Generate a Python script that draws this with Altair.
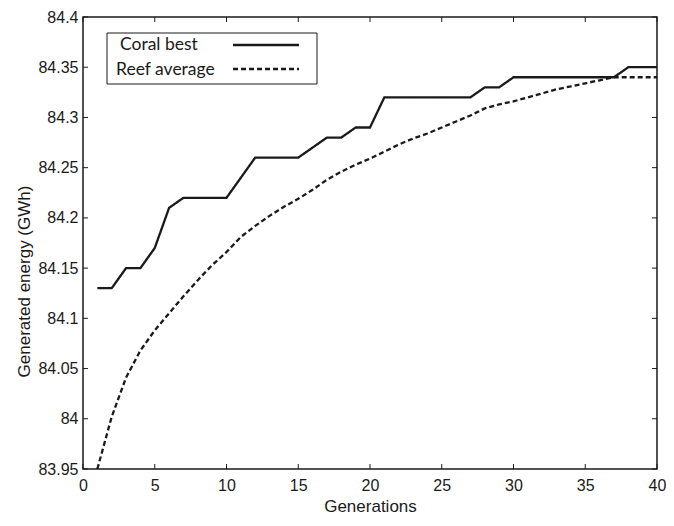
import altair as alt
import pandas as pd

generations = list(range(1, 41))
coral_best = [84.13, 84.13, 84.15, 84.15, 84.17, 84.21, 84.22, 84.22, 84.22, 84.22,
              84.24, 84.26, 84.26, 84.26, 84.26, 84.27, 84.28, 84.28, 84.29, 84.29,
              84.32, 84.32, 84.32, 84.32, 84.32, 84.32, 84.32, 84.33, 84.33, 84.34,
              84.34, 84.34, 84.34, 84.34, 84.34, 84.34, 84.34, 84.35, 84.35, 84.35]
reef_average = [83.95, 84.002, 84.041, 84.068, 84.088, 84.105, 84.122, 84.138, 84.153, 84.166,
                84.181, 84.192, 84.202, 84.211, 84.219, 84.228, 84.238, 84.246, 84.253, 84.259,
                84.266, 84.273, 84.279, 84.284, 84.290, 84.296, 84.302, 84.309, 84.313, 84.316,
                84.320, 84.324, 84.328, 84.331, 84.334, 84.337, 84.340, 84.340, 84.340, 84.340]
series_names = ["Coral best", "Reef average"]
x_ticks = [0, 5, 10, 15, 20, 25, 30, 35, 40]
y_ticks = [83.95, 84.0, 84.05, 84.1, 84.15, 84.2, 84.25, 84.3, 84.35, 84.4]

W, H = 574, 452
INK = "#1a1a1a"

df = pd.DataFrame({
    "gen": generations * 2,
    "value": coral_best + reef_average,
    "series": [series_names[0]] * 40 + [series_names[1]] * 40,
})

xscale = alt.Scale(domain=[0, 40], nice=False, zero=False)
yscale = alt.Scale(domain=[83.95, 84.4], nice=False, zero=False)

x_axis = alt.Axis(values=x_ticks, tickSize=0, domain=False, grid=False, labelFontSize=16,
                  labelFont="Liberation Sans", labelColor=INK, labelPadding=8, labelFlush=False,
                  title="Generations", titleFont="Liberation Sans", titleFontSize=17,
                  titleFontWeight="normal", titleColor=INK, titlePadding=5)
y_axis = alt.Axis(values=y_ticks, tickSize=0, domain=False, grid=False, labelFontSize=16,
                  labelFont="Liberation Sans", labelColor=INK, labelPadding=5, labelFlush=False,
                  labelExpr="format(datum.value, '.3~f')",
                  title="Generated energy (GWh)", titleFont="Liberation Sans", titleFontSize=17,
                  titleFontWeight="normal", titleColor=INK, titlePadding=4, titleY=264)

lines = alt.Chart(df).mark_line(strokeWidth=2.3, color=INK, clip=True).encode(
    x=alt.X("gen:Q", scale=xscale, axis=x_axis),
    y=alt.Y("value:Q", scale=yscale, axis=y_axis),
    strokeDash=alt.StrokeDash("series:N", scale=alt.Scale(domain=series_names, range=[[1, 0], [5, 3]]), legend=None),
    detail="series:N",
)

xt = pd.DataFrame({"t": x_ticks})
yt = pd.DataFrame({"t": y_ticks})
tick_bottom = alt.Chart(xt).mark_rule(color=INK, strokeWidth=1).encode(
    x=alt.X("t:Q", scale=xscale), y=alt.value(H), y2=alt.value(H - 5))
tick_top = alt.Chart(xt).mark_rule(color=INK, strokeWidth=1).encode(
    x=alt.X("t:Q", scale=xscale), y=alt.value(0), y2=alt.value(5))
tick_left = alt.Chart(yt).mark_rule(color=INK, strokeWidth=1).encode(
    y=alt.Y("t:Q", scale=yscale), x=alt.value(0), x2=alt.value(5))
tick_right = alt.Chart(yt).mark_rule(color=INK, strokeWidth=1).encode(
    y=alt.Y("t:Q", scale=yscale), x=alt.value(W), x2=alt.value(W - 5))

base = alt.Chart(pd.DataFrame({"a": [0]}))
legend_box = base.mark_rect(fill="white", stroke=INK, strokeWidth=1).encode(
    x=alt.value(24), x2=alt.value(234), y=alt.value(16), y2=alt.value(67))
leg_t1 = base.mark_text(align="left", baseline="middle", font="Lato", fontSize=17.5, color=INK).encode(
    x=alt.value(37), y=alt.value(28), text=alt.value(series_names[0]))
leg_t2 = base.mark_text(align="left", baseline="middle", font="Lato", fontSize=17.5, color=INK).encode(
    x=alt.value(33), y=alt.value(53), text=alt.value(series_names[1]))
leg_l1 = base.mark_rule(color=INK, strokeWidth=2.3).encode(
    x=alt.value(150), x2=alt.value(216), y=alt.value(28))
leg_l2 = base.mark_rule(color=INK, strokeWidth=2.3, strokeDash=[5, 3]).encode(
    x=alt.value(150), x2=alt.value(216), y=alt.value(52))

chart = alt.layer(
    lines, tick_bottom, tick_top, tick_left, tick_right,
    legend_box, leg_t1, leg_t2, leg_l1, leg_l2,
).properties(
    width=W, height=H,
    autosize=alt.AutoSizeParams(type="none"),
    padding={"left": 75, "top": 9, "right": 9, "bottom": 49},
    background="white",
).configure_view(stroke=INK, strokeWidth=1.5)

chart.save("out.html", embed_options={"renderer": "svg", "actions": False})
